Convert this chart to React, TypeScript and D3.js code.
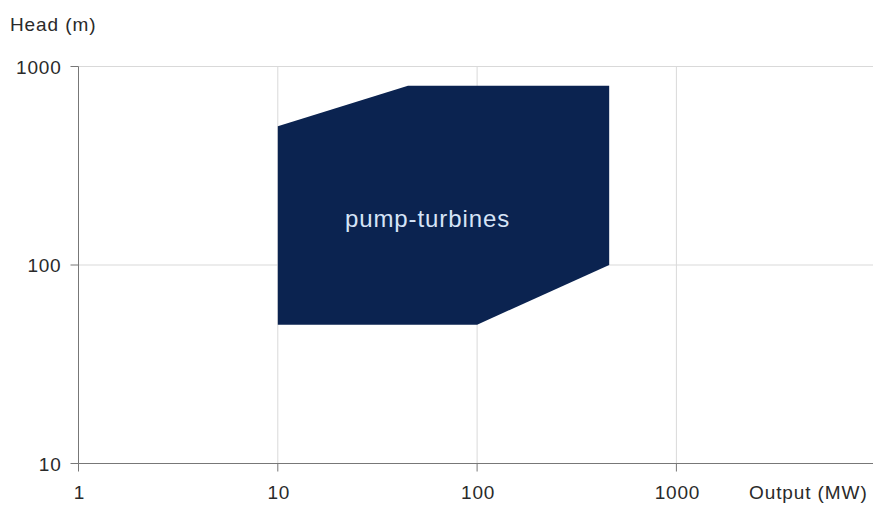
import React from "react";
import * as d3 from "d3";

const xTicks = [1, 10, 100, 1000];
const yTicks = [10, 100, 1000];
const regionOutput = [10, 10, 45, 460, 460, 100, 10];
const regionHead = [50, 500, 800, 800, 100, 50, 50];
const regionLabel = "pump-turbines";

export default function App() {
  const W = 873, H = 505;
  const x = d3.scaleLog().domain([1, 10000]).range([78.5, 78.5 + 4 * 199.3]);
  const y = d3.scaleLog().domain([10, 1000]).range([463.5, 66.5]);
  const pts: [number, number][] = regionOutput.map((o, i) => [x(o), y(regionHead[i])]);
  const line = d3.line();
  const font = "'Liberation Sans', Arial, sans-serif";
  const right = 873;
  const txt = "#2a2a2a";
  return (
    <svg width={W} height={H} style={{ position: "absolute", left: 0, top: 0, background: "#fff" }} fontFamily={font}>
      {xTicks.slice(1).map((t) => (
        <line key={"gx" + t} x1={x(t)} x2={x(t)} y1={y(1000)} y2={y(10)} stroke="#d9d9d9" strokeWidth={1} />
      ))}
      {yTicks.slice(1).map((t) => (
        <line key={"gy" + t} x1={x(1)} x2={right} y1={y(t)} y2={y(t)} stroke="#d9d9d9" strokeWidth={1} />
      ))}
      <path d={line(pts) || ""} fill="#0b2350" stroke="none" />
      <text x={427.5} y={227} fill="#d6e4f7" fontSize={24} letterSpacing={0.9} textAnchor="middle">
        {regionLabel}
      </text>
      <line x1={x(1)} x2={x(1)} y1={y(1000)} y2={y(10)} stroke="#777" strokeWidth={1} />
      <line x1={x(1)} x2={right} y1={y(10)} y2={y(10)} stroke="#777" strokeWidth={1} />
      {yTicks.map((t) => (
        <g key={"ty" + t}>
          <line x1={x(1) - 8} x2={x(1)} y1={y(t)} y2={y(t)} stroke="#777" />
          <text x={x(1) - 17} y={y(t) + 7} textAnchor="end" fontSize={19} letterSpacing={0.8} fill={txt}>
            {t}
          </text>
        </g>
      ))}
      {xTicks.map((t) => (
        <g key={"tx" + t}>
          <line x1={x(t)} x2={x(t)} y1={y(10)} y2={y(10) + 8} stroke="#777" />
          <text x={x(t) + 1} y={498.5} textAnchor="middle" fontSize={19} letterSpacing={0.8} fill={txt}>
            {t}
          </text>
        </g>
      ))}
      <text x={10} y={31} fontSize={19} letterSpacing={0.9} fill={txt}>Head (m)</text>
      <text x={749} y={498.5} fontSize={19} letterSpacing={0.9} fill={txt}>Output (MW)</text>
    </svg>
  );
}
